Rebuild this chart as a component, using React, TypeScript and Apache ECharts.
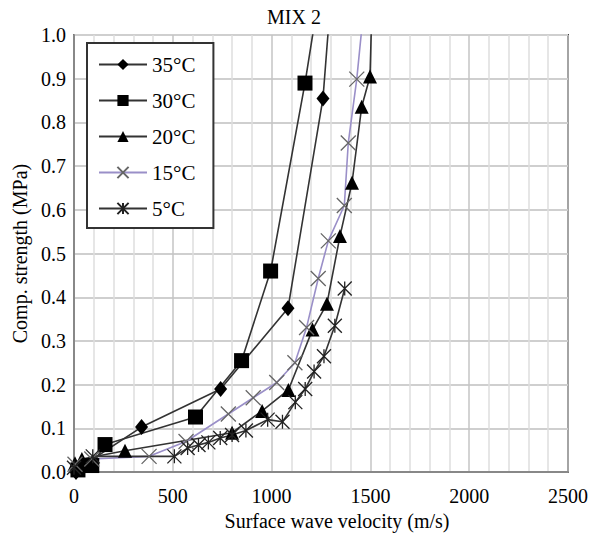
import React, { useEffect, useRef } from "react";
import * as echarts from "echarts";

const title = "MIX 2";
const xName = "Surface wave velocity (m/s)";
const yName = "Comp. strength (MPa)";
const seriesNames = ["35°C", "30°C", "20°C", "15°C", "5°C"];

const s35: number[][] = [
  [10, 0.0], [45, 0.015], [342, 0.103], [742, 0.19], [1083, 0.375], [1260, 0.855], [1302, 1.1],
];
const s30: number[][] = [
  [20, 0.005], [90, 0.015], [157, 0.063], [615, 0.126], [848, 0.255], [995, 0.46], [1169, 0.89], [1243, 1.1],
];
const s20: number[][] = [
  [5, 0.02], [40, 0.03], [258, 0.049], [800, 0.09], [952, 0.14], [1085, 0.188], [1207, 0.326],
  [1280, 0.385], [1346, 0.54], [1407, 0.662], [1456, 0.836], [1498, 0.905], [1510, 1.1],
];
const s15: number[][] = [
  [5, 0.018], [90, 0.03], [380, 0.036], [567, 0.07], [781, 0.133], [907, 0.17], [1026, 0.205],
  [1118, 0.25], [1177, 0.331], [1236, 0.443], [1287, 0.529], [1368, 0.61], [1388, 0.753],
  [1431, 0.899], [1475, 1.1],
];
const s5: number[][] = [
  [0, 0.01], [95, 0.036], [508, 0.036], [575, 0.055], [630, 0.062], [680, 0.068], [740, 0.078],
  [800, 0.085], [870, 0.095], [980, 0.12], [1055, 0.115], [1120, 0.16], [1170, 0.19],
  [1215, 0.23], [1265, 0.265], [1320, 0.335], [1370, 0.42],
];

const FONT = "Liberation Serif";
const X_SYM = "path://M0,0L10,10M10,0L0,10";
const AST_SYM = "path://M0,0L10,10M10,0L0,10M5,0L5,10";

export default function App() {
  const ref = useRef<HTMLDivElement>(null);
  useEffect(() => {
    if (!ref.current) return;
    const chart = echarts.init(ref.current, null, { renderer: "svg" });
    const lineBase = { type: "line", clip: true, z: 3 } as any;
    chart.setOption({
      animation: false,
      textStyle: { fontFamily: FONT, color: "#000" },
      title: {
        text: title,
        left: 289,
        top: 2,
        textAlign: "center",
        textStyle: { fontFamily: FONT, fontSize: 20, fontWeight: "normal", color: "#000" },
      },
      grid: {
        left: 74, right: 23, top: 35, bottom: 55,
        show: true, borderColor: "#444", borderWidth: 2, backgroundColor: "transparent",
      },
      legend: {
        orient: "vertical",
        left: 87, top: 43,
        padding: [11, 18, 9, 11],
        itemWidth: 48, itemHeight: 14, itemGap: 15,
        borderColor: "#333", borderWidth: 2, backgroundColor: "#fff",
        textStyle: { fontFamily: FONT, fontSize: 21, color: "#000" },
        data: seriesNames,
      },
      xAxis: {
        type: "value", min: 0, max: 2500, interval: 500,
        name: xName, nameLocation: "middle", nameGap: 33,
        nameTextStyle: { fontFamily: FONT, fontSize: 20, color: "#000", padding: [0, 0, 0, 32] },
        axisLine: { show: true, lineStyle: { color: "#888", width: 2 } },
        axisTick: { show: false },
        axisLabel: {
          fontFamily: FONT, fontSize: 20, color: "#000", margin: 14,
          formatter: (v: number) => String(v),
        },
        splitLine: { show: true, lineStyle: { color: "#c4c4c4", width: 1.5 } },
        minorTick: { show: false, splitNumber: 5 },
        minorSplitLine: { show: true, lineStyle: { color: "#dedede", width: 1.5 } },
      },
      yAxis: {
        type: "value", min: 0, max: 1, interval: 0.1,
        name: yName, nameLocation: "middle", nameGap: 35,
        nameTextStyle: { fontFamily: FONT, fontSize: 20, color: "#000" },
        axisLine: { show: true, lineStyle: { color: "#888", width: 2 } },
        axisTick: { show: false },
        axisLabel: {
          fontFamily: FONT, fontSize: 20, color: "#000", margin: 8,
          formatter: (v: number) => v.toFixed(1),
        },
        splitLine: { show: true, lineStyle: { color: "#cfcfcf", width: 2 } },
      },
      series: [
        {
          ...lineBase, name: seriesNames[0], data: s35,
          symbol: "diamond", symbolSize: [13, 16],
          lineStyle: { color: "#333", width: 1.6 },
          itemStyle: { color: "#000" },
        },
        {
          ...lineBase, name: seriesNames[1], data: s30,
          symbol: "rect", symbolSize: 15,
          lineStyle: { color: "#333", width: 1.6 },
          itemStyle: { color: "#000" },
        },
        {
          ...lineBase, name: seriesNames[2], data: s20,
          symbol: "triangle", symbolSize: 14,
          lineStyle: { color: "#333", width: 1.6 },
          itemStyle: { color: "#000" },
        },
        {
          ...lineBase, name: seriesNames[3], data: s15,
          symbol: X_SYM, symbolSize: 15,
          lineStyle: { color: "#9a8fc8", width: 1.6 },
          itemStyle: { color: "#666", borderColor: "#666", borderWidth: 1.3 },
        },
        {
          ...lineBase, name: seriesNames[4], data: s5,
          symbol: AST_SYM, symbolSize: 14,
          lineStyle: { color: "#333", width: 1.6 },
          itemStyle: { color: "#222", borderColor: "#222", borderWidth: 1.3 },
        },
      ],
    });
    return () => chart.dispose();
  }, []);
  return <div ref={ref} style={{ width: 591, height: 536, position: "absolute", left: 0, top: 0 }} />;
}
